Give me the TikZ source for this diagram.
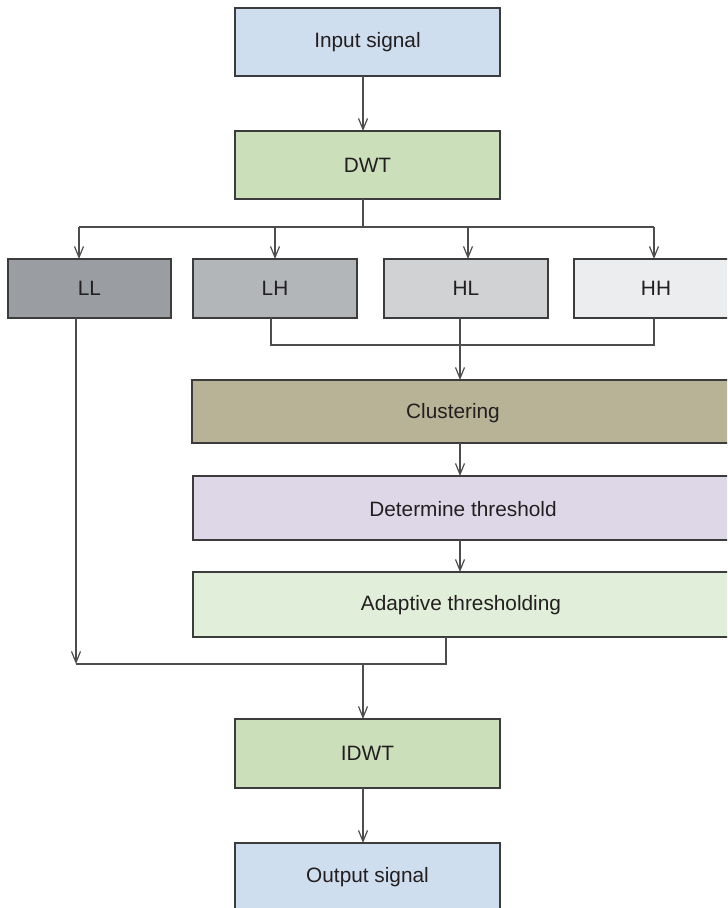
\documentclass[tikz,border=0pt]{standalone}
\usepackage{fontspec}
\setmainfont{Liberation Sans}
\usetikzlibrary{arrows.meta}

\definecolor{sigblue}{HTML}{CFDEEE}
\definecolor{wtgreen}{HTML}{CCDFBB}
\definecolor{bandLL}{HTML}{9A9DA2}
\definecolor{bandLH}{HTML}{B3B6B9}
\definecolor{bandHL}{HTML}{D1D2D4}
\definecolor{bandHH}{HTML}{ECEDEF}
\definecolor{clusfill}{HTML}{B8B397}
\definecolor{thrfill}{HTML}{DED7E8}
\definecolor{adfill}{HTML}{E1EED9}
\definecolor{boxline}{HTML}{3C3C3C}
\definecolor{linkgray}{HTML}{4D4D4D}
\definecolor{txt}{HTML}{231F20}

\begin{document}
\begin{tikzpicture}[x=0.5pt, y=-0.5pt,
  box/.style={draw=boxline, line width=0.65pt, inner sep=0pt, outer sep=0pt},
  lbl/.style={text=txt, font=\fontsize{10.4}{12}\selectfont},
  link/.style={draw=linkgray, line width=0.6pt},
  arr/.style={link, -{Straight Barb[length=5.5pt,width=4.5pt]}}]
  \useasboundingbox (0,0) rectangle (727,908);
  \fill[white] (0,0) rectangle (727,908);
  \clip (0,0) rectangle (727,908);
  % Columns and junctions
  \coordinate (trunk) at (363,0);
  \coordinate (split) at (363,227);
  \coordinate (merge) at (0,345);
  \coordinate (join) at (0,664);
  \coordinate (inLL) at (79,0);
  \coordinate (inLH) at (275,0);
  \coordinate (inHL) at (468,0);
  \coordinate (inHH) at (654,0);
  \coordinate (outLL) at (76,0);
  \coordinate (outLH) at (271,0);
  \coordinate (outHL) at (460,0);
  \coordinate (outHH) at (654,0);
  \coordinate (outAd) at (446,0);
  % Boxes
  \node[box, lbl, fill=sigblue, minimum width=132.5pt, minimum height=34pt] (inp) at (367.5,42) {Input signal};
  \node[box, lbl, fill=wtgreen, minimum width=132.5pt, minimum height=34pt] (dwt) at (367.5,165) {DWT};
  \node[box, lbl, fill=bandLL, minimum width=81.5pt, minimum height=29.5pt] (ll) at (89.5,288.5) {LL};
  \node[box, lbl, fill=bandLH, minimum width=82pt, minimum height=29.5pt] (lh) at (275,288.5) {LH};
  \node[box, lbl, fill=bandHL, minimum width=82pt, minimum height=29.5pt] (hl) at (466,288.5) {HL};
  \node[box, lbl, fill=bandHH, minimum width=82pt, minimum height=29.5pt] (hh) at (656,288.5) {HH};
  \node[box, fill=clusfill, minimum width=274pt, minimum height=31.5pt] (clus) at (466,411.5) {};
  \node[box, fill=thrfill, minimum width=273.5pt, minimum height=32pt] (thr) at (466.5,508) {};
  \node[box, fill=adfill, minimum width=273.5pt, minimum height=32.5pt] (adapt) at (466.5,604.5) {};
  \node[box, lbl, fill=wtgreen, minimum width=132.5pt, minimum height=34.5pt] (idwt) at (367.5,753.5) {IDWT};
  \node[box, lbl, fill=sigblue, minimum width=132.5pt, minimum height=34.5pt] (outp) at (367.5,877.5) {Output signal};
  % Labels of the wide boxes
  \node[lbl] (clustxt) at (453,413) {Clustering};
  \node[lbl] (thrtxt) at (463,509) {Determine threshold};
  \node[lbl] (adtxt) at (461,605) {Adaptive thresholding};
  % Decomposition
  \draw[arr] (inp.south -| trunk) -- (dwt.north -| trunk);
  \draw[link] (dwt.south -| trunk) -- (split);
  \draw[link] (split -| inLL) -- (split -| inHH);
  \foreach \b/\c in {ll/inLL, lh/inLH, hl/inHL, hh/inHH}
    \draw[arr] (split -| \c) -- (\b.north -| \c);
  % Detail bands
  \draw[link] (lh.south -| outLH) |- (merge -| outHH) -- (hh.south -| outHH);
  \draw[arr] (hl.south -| outHL) -- (clus.north -| outHL);
  \draw[arr] (clus.south -| outHL) -- (thr.north -| outHL);
  \draw[arr] (thr.south -| outHL) -- (adapt.north -| outHL);
  % Reconstruction
  \draw[arr] (ll.south -| outLL) -- (join -| outLL);
  \draw[link] (join -| outLL) -- (join -| outAd) -- (adapt.south -| outAd);
  \draw[arr] (join -| trunk) -- (idwt.north -| trunk);
  \draw[arr] (idwt.south -| trunk) -- (outp.north -| trunk);
\end{tikzpicture}
\end{document}
